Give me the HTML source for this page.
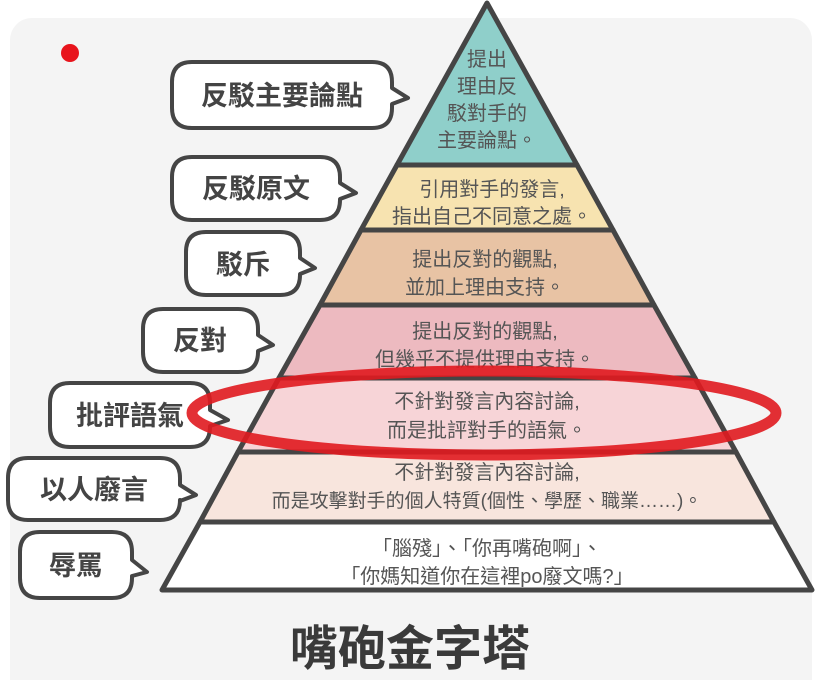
<!DOCTYPE html>
<html><head><meta charset="utf-8"><style>
body{margin:0;background:#fff;width:817px;height:680px;overflow:hidden;font-family:"Liberation Sans","Noto Sans CJK TC",sans-serif}
</style></head><body>
<svg width="817" height="680" xmlns="http://www.w3.org/2000/svg" font-family="Liberation Sans, Noto Sans CJK TC, sans-serif">
<rect x="10" y="18" width="802" height="700" rx="22" fill="#f4f4f4"/>
<circle cx="70" cy="53" r="9" fill="#e8141c"/>
<g stroke="#454545" stroke-width="5" stroke-linejoin="round">
<polygon points="487,3 577,165 397,165" fill="#8fcfca"/>
<polygon points="397,165 577,165 613,230 361,230" fill="#f7e3b0"/>
<polygon points="361,230 613,230 654,305 320,305" fill="#e8c3a4"/>
<polygon points="320,305 654,305 695,378 279,378" fill="#edbac0"/>
<polygon points="279,378 695,378 736,452 238,452" fill="#f7d4d7"/>
<polygon points="238,452 736,452 774,522 200,522" fill="#f8e5dd"/>
<polygon points="200,522 774,522 812,590 162,590" fill="#ffffff"/>
</g>
<g fill="#555" font-size="20" text-anchor="middle">
<text x="487" y="66">提出</text>
<text x="487" y="93">理由反</text>
<text x="487" y="120">駁對手的</text>
<text x="487" y="147">主要論點。</text>
<text x="492" y="196">引用對手的發言,</text>
<text x="492" y="223">指出自己不同意之處。</text>
<text x="485" y="266">提出反對的觀點,</text>
<text x="485" y="294">並加上理由支持。</text>
<text x="485" y="338">提出反對的觀點,</text>
<text x="485" y="366">但幾乎不提供理由支持。</text>
<text x="487" y="408">不針對發言內容討論,</text>
<text x="487" y="437">而是批評對手的語氣。</text>
<text x="487" y="479">不針對發言內容討論,</text>
<text x="487" y="507" font-size="19">而是攻擊對手的個人特質(個性、學歷、職業……)。</text>
<text x="487" y="555">「腦殘」、「你再嘴砲啊」、</text>
<text x="487" y="583">「你媽知道你在這裡po廢文嗎?」</text>
</g>
<g stroke="#454545" stroke-width="4" fill="#fff" stroke-linejoin="round">
<path d="M192,62 H372 Q392,62 392,82 V88 L408,98 L392,104 V108 Q392,128 372,128 H192 Q172,128 172,108 V82 Q172,62 192,62 Z"/>
<path d="M192,157 H320 Q340,157 340,177 V183 L356,193 L340,199 V200 Q340,220 320,220 H192 Q172,220 172,200 V177 Q172,157 192,157 Z"/>
<path d="M206,232 H280 Q300,232 300,252 V258 L315,268 L300,274 V275 Q300,295 280,295 H206 Q186,295 186,275 V252 Q186,232 206,232 Z"/>
<path d="M163,309 H238 Q258,309 258,329 V335 L273,345 L258,351 V352 Q258,372 238,372 H163 Q143,372 143,352 V329 Q143,309 163,309 Z"/>
<path d="M70,383 H190 Q210,383 210,403 V410 L228,420 L210,426 V427 Q210,447 190,447 H70 Q50,447 50,427 V403 Q50,383 70,383 Z"/>
<path d="M28,458 H160 Q180,458 180,478 V485 L196,495 L180,501 V500 Q180,520 160,520 H28 Q8,520 8,500 V478 Q8,458 28,458 Z"/>
<path d="M40,532 H112 Q132,532 132,552 V560 L147,572 L132,576 V578 Q132,598 112,598 H40 Q20,598 20,578 V552 Q20,532 40,532 Z"/>
</g>
<g fill="#444" font-size="27" font-weight="bold" text-anchor="middle">
<text x="282" y="105">反駁主要論點</text>
<text x="256" y="198">反駁原文</text>
<text x="243" y="274">駁斥</text>
<text x="200" y="350">反對</text>
<text x="130" y="425">批評語氣</text>
<text x="94" y="499">以人廢言</text>
<text x="76" y="575">辱罵</text>
</g>
<ellipse cx="484" cy="413" rx="292" ry="42" fill="none" stroke="#e01a1f" stroke-width="11" opacity="0.9"/>
<text x="410" y="665" font-size="48" font-weight="bold" fill="#3a3a3a" text-anchor="middle">嘴砲金字塔</text>
</svg>
</body></html>
